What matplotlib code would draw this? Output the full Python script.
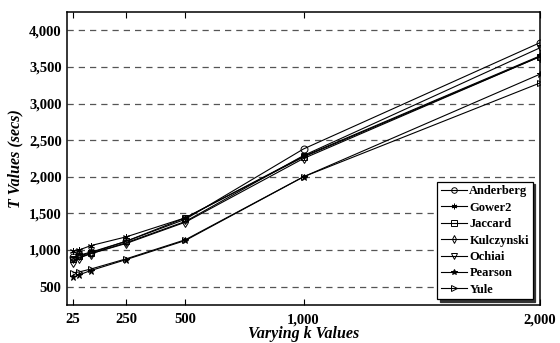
import numpy as np
import matplotlib
matplotlib.use('Agg')
import matplotlib.pyplot as plt
import matplotlib.ticker as ticker

plt.rcParams['font.family'] = ['Liberation Serif', 'DejaVu Serif']

k_values = [25, 50, 100, 250, 500, 1000, 2000]
x_ticks = [25, 250, 500, 1000, 2000]
y_ticks = [500, 1000, 1500, 2000, 2500, 3000, 3500, 4000]

anderberg = [900, 930, 970, 1120, 1420, 2380, 3830]
gower2 = [980, 1000, 1060, 1180, 1440, 2280, 3650]
jaccard = [880, 920, 960, 1120, 1440, 2270, 3640]
kulczynski = [840, 890, 950, 1090, 1380, 2250, 3640]
ochiai = [860, 900, 950, 1100, 1390, 2290, 3760]
pearson = [630, 660, 720, 870, 1130, 2000, 3400]
yule = [690, 700, 740, 880, 1140, 2000, 3280]

series = [
    ('Anderberg', anderberg, 'o'),
    ('Gower2', gower2, (6, 2, 0)),
    ('Jaccard', jaccard, 's'),
    ('Kulczynski', kulczynski, 'd'),
    ('Ochiai', ochiai, 'v'),
    ('Pearson', pearson, '*'),
    ('Yule', yule, '>'),
]

fig = plt.figure(figsize=(5.6, 3.43), dpi=100)
ax = fig.add_axes([0.12, 0.111, 0.844, 0.854])

for name, vals, mk in series:
    filled = mk in ('*',) or isinstance(mk, tuple)
    ax.plot(k_values, vals, color='black', linewidth=0.8, marker=mk,
            markersize=5, markerfacecolor='black' if filled else 'none',
            markeredgecolor='black', markeredgewidth=0.7, label=name)

ax.set_xlim(0, 2000)
ax.set_ylim(250, 4250)
ax.set_xticks(x_ticks)
ax.set_yticks(y_ticks)
ax.xaxis.set_major_formatter(ticker.StrMethodFormatter('{x:,.0f}'))
ax.yaxis.set_major_formatter(ticker.StrMethodFormatter('{x:,.0f}'))
ax.tick_params(axis='x', direction='in', top=True, length=4, width=0.8, pad=6)
ax.tick_params(axis='y', length=0, pad=4)
for lab in ax.get_xticklabels() + ax.get_yticklabels():
    lab.set_fontweight('bold')
    lab.set_fontsize(10.5)

ax.yaxis.grid(True, linestyle=(0, (5, 4)), color='#555555', linewidth=0.9)
ax.set_axisbelow(True)
for sp in ax.spines.values():
    sp.set_linewidth(1.1)

ax.set_xlabel('Varying k Values', fontsize=11.5, fontweight='bold', style='italic', labelpad=0)
ax.set_ylabel('T Values (secs)', fontsize=11.5, fontweight='bold', style='italic', labelpad=4)

leg = ax.legend(loc='lower right', bbox_to_anchor=(0.99, 0.01),
                prop={'weight': 'bold', 'size': 9}, frameon=True, fancybox=False,
                shadow={'ox': 1.5, 'oy': -1.5, 'color': '#333333', 'alpha': 1.0},
                handlelength=2.1, handletextpad=0.15, borderpad=0.3, markerscale=0.8,
                labelspacing=0.35, borderaxespad=0.2)
leg.get_frame().set_edgecolor('black')
leg.get_frame().set_linewidth(0.9)

fig.savefig('out.png', dpi=100)
